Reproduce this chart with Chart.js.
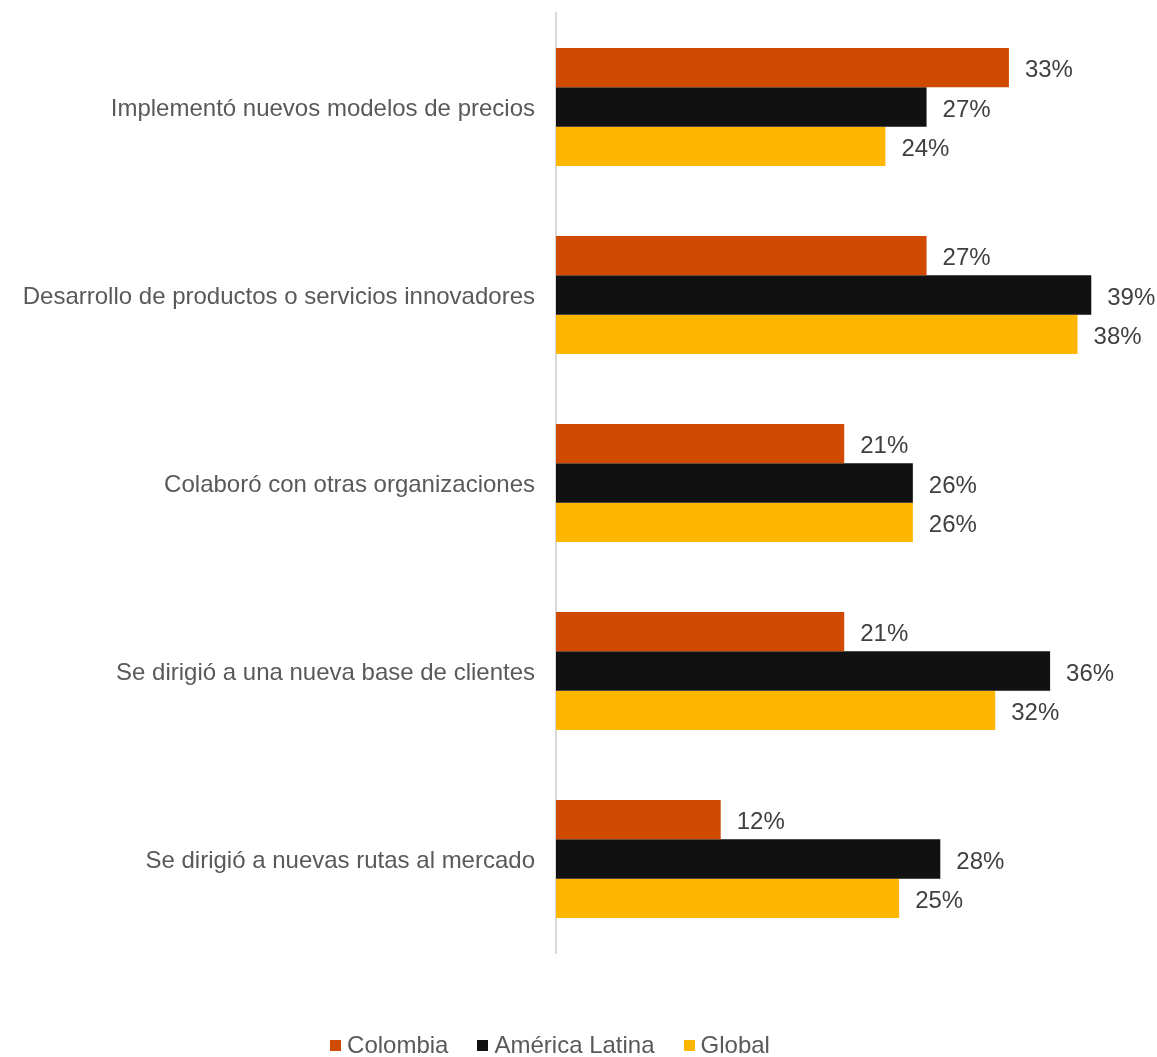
<!DOCTYPE html>
<html>
<head>
<meta charset="utf-8">
<script src="https://cdn.jsdelivr.net/npm/chart.js@4/dist/chart.umd.min.js"></script>
<style>
  html, body { margin: 0; padding: 0; background: #fff; }
  #wrap { position: relative; width: 1157px; height: 1057px; }
  #legend {
    position: absolute; left: 0; top: 1031px; width: 1100px;
    display: flex; justify-content: center; gap: 29px;
    font: 24px "Liberation Sans", Arial, sans-serif; color: #595959;
  }
  #legend span { display: flex; align-items: center; }
  #legend i { display: inline-block; width: 11px; height: 11px; margin-right: 6px; }
</style>
</head>
<body>
<div id="wrap">
  <canvas id="chart" width="1157" height="1057"></canvas>
  <div id="legend"></div>
</div>
<script>
const categories = [
  "Implementó nuevos modelos de precios",
  "Desarrollo de productos o servicios innovadores",
  "Colaboró con otras organizaciones",
  "Se dirigió a una nueva base de clientes",
  "Se dirigió a nuevas rutas al mercado",
];
const colombia = [33, 27, 21, 21, 12];
const americaLatina = [27, 39, 26, 36, 28];
const global = [24, 38, 26, 32, 25];

const seriesNames = ["Colombia", "América Latina", "Global"];
const seriesColors = ["#d04a02", "#111111", "#ffb600"];

const FONT = "'Liberation Sans', Arial, sans-serif";

// value labels to the right of each bar
const barLabels = {
  id: "barLabels",
  afterDatasetsDraw(chart) {
    const ctx = chart.ctx;
    ctx.save();
    ctx.font = "24px " + FONT;
    ctx.fillStyle = "#404040";
    ctx.textAlign = "left";
    ctx.textBaseline = "middle";
    chart.data.datasets.forEach((ds, i) => {
      chart.getDatasetMeta(i).data.forEach((bar, j) => {
        ctx.fillText(ds.data[j] + "%", bar.x + 16, bar.y + 3);
      });
    });
    ctx.restore();
  },
};

const datasets = [colombia, americaLatina, global].map((values, i) => ({
  label: seriesNames[i],
  data: values,
  backgroundColor: seriesColors[i],
  barPercentage: 1,
  categoryPercentage: 118 / 188,
}));

new Chart(document.getElementById("chart"), {
  type: "bar",
  data: { labels: categories, datasets },
  options: {
    indexAxis: "y",
    responsive: false,
    animation: false,
    layout: { padding: { top: 13, right: 52, bottom: 0, left: 0 } },
    plugins: { legend: { display: false }, tooltip: { enabled: false } },
    scales: {
      x: {
        min: 0,
        max: 40,
        grid: { display: false },
        border: { display: false },
        ticks: { display: false },
        afterFit: (s) => { s.height = 104; },
      },
      y: {
        grid: { display: false },
        border: { display: true, color: "#d9d9d9", width: 2 },
        ticks: {
          padding: 13,
          labelOffset: 2,
          color: "#595959",
          font: { family: FONT, size: 24 },
        },
        afterFit: (s) => {
          s.width = 556;
          s.paddingTop = 0;
          s.paddingBottom = 0;
        },
      },
    },
  },
  plugins: [barLabels],
});

// legend row under the plot
const legend = document.getElementById("legend");
seriesNames.forEach((name, i) => {
  const item = document.createElement("span");
  item.innerHTML = '<i style="background:' + seriesColors[i] + '"></i>' + name;
  legend.appendChild(item);
});
</script>
</body>
</html>
